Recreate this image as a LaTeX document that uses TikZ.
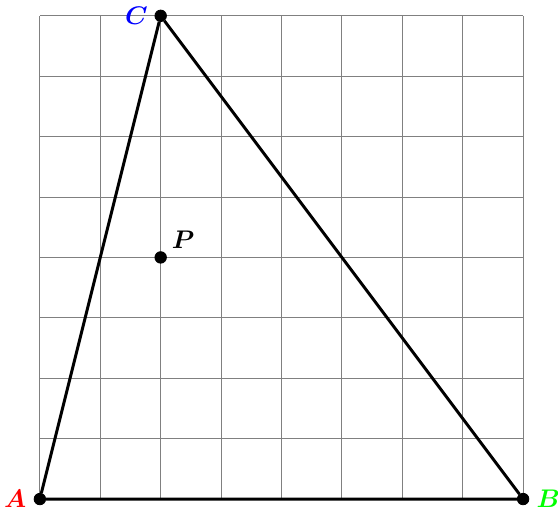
\documentclass[tikz,border=0pt]{standalone}
\usepackage{amsmath}
\usepackage{bm}
\usepackage{xcolor}
\usepackage{tikz}
\usetikzlibrary{calc, positioning}

\begin{document}
\begin{tikzpicture}[ vertex/.style={draw, fill=black, circle, inner sep=0pt, minimum size=0.19cm},
		side/.style={line width=1.4pt, black},
		lbl/.style={font=\fontsize{12.5}{15}\selectfont, inner sep=1pt}
		]
		\useasboundingbox (-0.66,-0.215) rectangle (8.578,8.262);
		\draw[gray, line width=0.4pt] (0,0) grid (8,8);
		
		\node [vertex](a) at (0,0) {};
		\node [vertex](b) at (8,0) {};
		\node [vertex](c) at (2,8) {};
		\node [vertex](p) at (2,4) {};
		
		\node [lbl, red, left=0.08cm of a] (la) {$\bm{A}$};
		\node [lbl, green, right=0.08cm of b] (lb) {$\bm{B}$};
		\node [lbl, blue, left=0.07cm of c] (lc) {$\bm{C}$};
		\node [lbl, black, above right=0.04cm and 0.07cm of p] (lp) {$\bm{P}$};
		
		\draw[side] (a) -- (b) -- (c) -- (a);
		
	\end{tikzpicture}
\end{document}
